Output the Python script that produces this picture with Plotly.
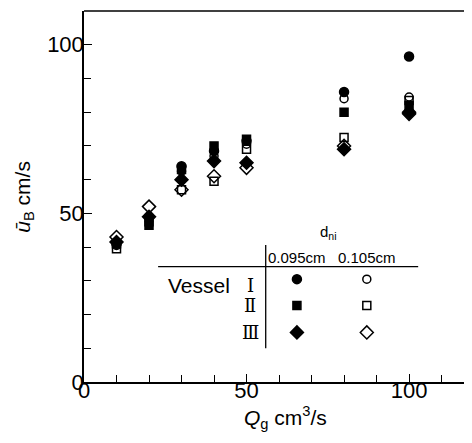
import plotly.graph_objects as go

# ---- data ----
qg = [10, 20, 30, 40, 50, 80, 100]
v1_095 = [41.0, 49.0, 64.0, 68.5, 71.5, 86.0, 96.5]   # Vessel I, 0.095 cm (filled circle)
v1_105 = [40.5, 48.0, 62.5, 67.0, 70.5, 84.0, 84.5]   # Vessel I, 0.105 cm (open circle)
v2_095 = [41.0, 46.5, 63.0, 70.0, 72.0, 80.0, 82.0]   # Vessel II, 0.095 cm (filled square)
v2_105 = [39.5, 47.5, 57.0, 59.5, 69.0, 72.5, 83.5]   # Vessel II, 0.105 cm (open square)
v3_095 = [41.5, 49.0, 60.0, 65.5, 65.0, 69.0, 80.0]   # Vessel III, 0.095 cm (filled diamond)
v3_105 = [43.0, 52.0, 57.0, 61.0, 63.5, 70.0, 79.5]   # Vessel III, 0.105 cm (open diamond)

x_ticks = [0, 50, 100]
y_ticks = [0, 50, 100]
vessels = ["Ⅰ", "Ⅱ", "Ⅲ"]
nozzles = ["0.095cm", "0.105cm"]

FONT = "Liberation Sans"
BLACK = "black"

fig = go.Figure()

series = [
    (v1_095, "circle", 9),
    (v2_095, "square", 8),
    (v3_095, "diamond", 10),
    (v1_105, "circle-open", 8),
    (v2_105, "square-open", 8),
    (v3_105, "diamond-open", 10),
]
for ys, sym, sz in series:
    fig.add_trace(go.Scatter(
        x=qg, y=ys, mode="markers", showlegend=False, cliponaxis=False,
        marker=dict(symbol=sym, size=sz, color=BLACK,
                    line=dict(color=BLACK, width=1.5)),
    ))

# ---- table-style legend (data coordinates) ----
col_x = [65.5, 87.0]
row_y = [30.5, 22.7, 14.7]
leg_syms = [["circle", "circle-open"], ["square", "square-open"], ["diamond", "diamond-open"]]
leg_sizes = [[9, 8], [8, 8], [10, 10]]
for r in range(3):
    for c in range(2):
        fig.add_trace(go.Scatter(
            x=[col_x[c]], y=[row_y[r]], mode="markers", showlegend=False,
            marker=dict(symbol=leg_syms[r][c], size=leg_sizes[r][c], color=BLACK,
                        line=dict(color=BLACK, width=1.5)),
        ))

fig.add_shape(type="line", x0=22.8, x1=102.8, y0=34.2, y1=34.2,
              line=dict(color=BLACK, width=1.3))
fig.add_shape(type="line", x0=55.9, x1=55.9, y0=10.0, y1=40.6,
              line=dict(color=BLACK, width=1.3))
# top frame line
fig.add_shape(type="line", xref="paper", yref="paper", x0=0, x1=1, y0=1, y1=1,
              line=dict(color=BLACK, width=1.5))

fig.add_annotation(x=75.1, y=44.3, text="d<sub>ni</sub>", showarrow=False,
                   font=dict(family=FONT, size=15, color=BLACK))
for c in range(2):
    fig.add_annotation(x=col_x[c], y=36.8, text=nozzles[c], showarrow=False,
                       font=dict(family=FONT, size=15, color=BLACK))
fig.add_annotation(x=35.4, y=28.7, text="Vessel", showarrow=False,
                   font=dict(family=FONT, size=21, color=BLACK))
for r in range(3):
    fig.add_annotation(x=51.2, y=[28.7, 22.7, 14.7][r], text=vessels[r], showarrow=False,
                       font=dict(family="DejaVu Serif", size=18, color=BLACK))

# axis titles (paper coords; plot area is 380 x 371 px)
fig.add_annotation(xref="paper", yref="paper", x=0.529, y=-0.095, yanchor="middle",
                   text="<i>Q</i><sub>g</sub> cm<sup>3</sup>/s", showarrow=False,
                   font=dict(family=FONT, size=21, color=BLACK))
fig.add_annotation(xref="paper", yref="paper", x=-0.16, y=0.5, xanchor="center",
                   yanchor="middle", textangle=-90,
                   text="<i>ū</i><sub>B</sub> cm/s", showarrow=False,
                   font=dict(family=FONT, size=21, color=BLACK))

fig.update_xaxes(range=[0, 116.9], tickvals=x_ticks, ticks="inside", ticklen=8,
                 tickwidth=1.3, tickcolor=BLACK, showline=True, linecolor=BLACK,
                 linewidth=1.5, showgrid=False, zeroline=False, automargin=False,
                 ticklabelstandoff=-12,
                 tickfont=dict(family=FONT, size=22, color=BLACK),
                 minor=dict(tickvals=list(range(10, 120, 10)), ticks="inside",
                            ticklen=7, tickwidth=1.3, tickcolor=BLACK))
fig.update_yaxes(range=[0, 110], tickvals=y_ticks, ticks="inside", ticklen=8,
                 tickwidth=1.3, tickcolor=BLACK, showline=True, linecolor=BLACK,
                 linewidth=1.5, showgrid=False, zeroline=False, automargin=False,
                 ticklabelstandoff=-6,
                 tickfont=dict(family=FONT, size=22, color=BLACK),
                 minor=dict(tickvals=list(range(10, 110, 10)), ticks="inside",
                            ticklen=7, tickwidth=1.3, tickcolor=BLACK))

fig.update_layout(width=456, height=427, margin=dict(l=76, r=0, t=3, b=53),
                  plot_bgcolor="white", paper_bgcolor="white")

fig.write_html("out.html")
